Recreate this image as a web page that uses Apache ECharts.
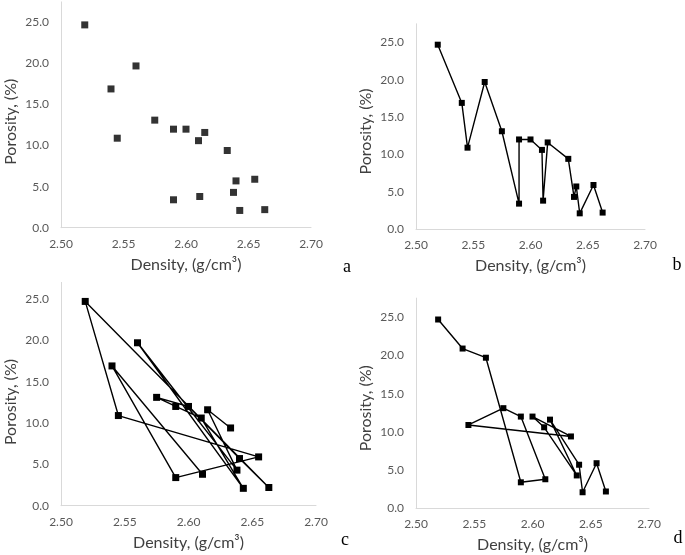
<!DOCTYPE html>
<html><head><meta charset="utf-8">
<script src="https://cdn.jsdelivr.net/npm/echarts@6/dist/echarts.min.js"></script>
<style>html,body{margin:0;padding:0;background:#fff;}#c{width:685px;height:555px;}</style>
</head><body><div id="c"></div>
<script>
// Samples (A..Q)
const density  = [2.519, 2.540, 2.560, 2.545, 2.575, 2.590, 2.600, 2.610, 2.615, 2.633, 2.640, 2.655, 2.638, 2.590, 2.611, 2.643, 2.663];
const porosity = [24.7, 16.9, 19.7, 10.9, 13.1, 12.0, 12.0, 10.6, 11.6, 9.4, 5.7, 5.9, 4.3, 3.4, 3.8, 2.1, 2.2];
// panel d uses a different value for the 2.54 sample
const porosityD = [24.7, 20.9, 19.7, 10.9, 13.1, 12.0, 12.0, 10.6, 11.6, 9.4, 5.7, 5.9, 4.3, 3.4, 3.8, 2.1, 2.2];
// connection orders (indices into the arrays above)
const orderB = [0, 1, 3, 2, 4, 13, 5, 6, 7, 14, 8, 9, 12, 10, 15, 11, 16];
const orderC = [9, 8, 12, 2, 15, 7, 5, 4, 6, 10, 16, 0, 3, 11, 13, 1, 14];
const orderD = [0, 1, 2, 13, 14, 5, 4, 3, 9, 6, 7, 12, 8, 10, 15, 11, 16];
const xMin = 2.50, xMax = 2.70, xStep = 0.05;
const yMin = 0, yStep = 5, yLabelMax = 25;
const panelLetters = ['a', 'b', 'c', 'd'];

const FONT = 'Lato, "Open Sans", sans-serif';
function pts(order, ys) { return order.map(i => [density[i], ys[i]]); }

const grids = [
  {left: 61,  top: 1.9,   width: 250, height: 225.8},
  {left: 416, top: 23.8,  width: 229, height: 205.2},
  {left: 61,  top: 282.4, width: 255, height: 223.3},
  {left: 416, top: 298.1, width: 233, height: 210.2}
];
const yMaxes = [27.5, 27.5, 27.0, 27.5];
const yNameShift = [14, 10, 16, 10];

const xAxes = grids.map((g, i) => ({
  gridIndex: i, type: 'value', min: xMin, max: xMax, interval: xStep,
  name: 'Density, (g/cm³)', nameLocation: 'middle', nameGap: 29,
  nameTextStyle: {fontFamily: FONT, fontSize: 16, color: '#404040'},
  axisLine: {show: true, lineStyle: {color: '#d9d9d9', width: 1}},
  axisTick: {show: false}, splitLine: {show: false},
  axisLabel: {fontFamily: FONT, fontSize: 12, color: '#595959', margin: 10,
    formatter: v => v.toFixed(2)}
}));
const yAxes = grids.map((g, i) => ({
  gridIndex: i, type: 'value', min: yMin, max: yMaxes[i], interval: yStep,
  name: 'Porosity, (%)', nameLocation: 'middle', nameGap: 42,
  nameTextStyle: {fontFamily: FONT, fontSize: 16, color: '#404040', padding: [0, yNameShift[i], 0, 0]},
  axisLine: {show: true, lineStyle: {color: '#d9d9d9', width: 1}},
  axisTick: {show: false}, splitLine: {show: false},
  axisLabel: {fontFamily: FONT, fontSize: 12, color: '#595959', margin: 12,
    showMaxLabel: false,
    formatter: v => (v > yLabelMax + 1e-9 ? '' : v.toFixed(1))}
}));

const mk = {color: '#000'};
const series = [
  {type: 'scatter', xAxisIndex: 0, yAxisIndex: 0, symbol: 'rect', symbolSize: 7,
   itemStyle: mk, data: density.map((d, i) => [d, porosity[i]])},
  {type: 'line', xAxisIndex: 1, yAxisIndex: 1, symbol: 'rect', symbolSize: 6, showAllSymbol: true,
   itemStyle: mk, lineStyle: {color: '#000', width: 1.4}, data: pts(orderB, porosity)},
  {type: 'line', xAxisIndex: 2, yAxisIndex: 2, symbol: 'rect', symbolSize: 7, showAllSymbol: true,
   itemStyle: mk, lineStyle: {color: '#000', width: 1.4}, data: pts(orderC, porosity)},
  {type: 'line', xAxisIndex: 3, yAxisIndex: 3, symbol: 'rect', symbolSize: 6, showAllSymbol: true,
   itemStyle: mk, lineStyle: {color: '#000', width: 1.4}, data: pts(orderD, porosityD)}
];

const letterPos = [[347, 267], [677, 265], [345, 540], [678, 538]];
const graphic = panelLetters.map((t, i) => ({
  type: 'text', x: letterPos[i][0], y: letterPos[i][1],
  style: {text: t, font: '18px "Liberation Serif", serif', fill: '#000', align: 'center', verticalAlign: 'middle'}
}));

const chart = echarts.init(document.getElementById('c'), null, {renderer: 'canvas'});
chart.setOption({
  animation: false, backgroundColor: '#fff',
  grid: grids, xAxis: xAxes, yAxis: yAxes, series: series, graphic: graphic
});
</script></body></html>
